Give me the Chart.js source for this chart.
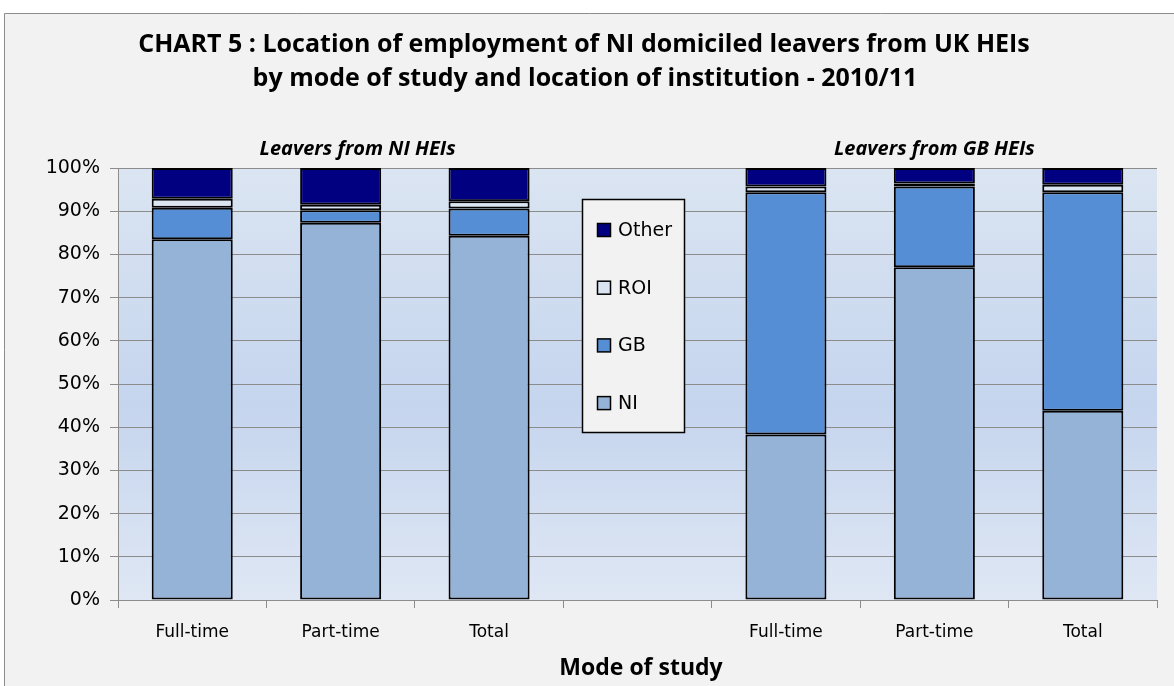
<!DOCTYPE html>
<html>
<head>
<meta charset="utf-8">
<script src="https://cdn.jsdelivr.net/npm/chart.js@4.4.0/dist/chart.umd.min.js"></script>
<style>
html,body{margin:0;padding:0;background:#fff;}
#wrap{width:1174px;height:686px;position:relative;}
</style>
</head>
<body>
<div id="wrap"><canvas id="c" width="1174" height="686"></canvas></div>
<script>
const categories = ["Full-time","Part-time","Total","","Full-time","Part-time","Total"];
const niValues    = [83.5, 87.3, 84.3, null, 38.3, 77.0, 43.8];
const gbValues    = [7.3, 2.9, 6.3, null, 56.1, 18.7, 50.6];
const roiValues   = [2.1, 1.3, 1.7, null, 1.3, 0.7, 1.7];
const otherValues = [7.1, 8.5, 7.7, null, 4.3, 3.6, 3.9];
const yTicks = [0,10,20,30,40,50,60,70,80,90,100];
const titleLines = ["CHART 5 : Location of employment of NI domiciled leavers from UK HEIs",
                    "by mode of study and location of institution - 2010/11"];
const groupLabels = ["Leavers from NI HEIs","Leavers from GB HEIs"];
const xAxisTitle = "Mode of study";

const FONT = "'DejaVu Sans', sans-serif";
const TFONT = "'Open Sans', sans-serif";

const decor = {
  id:'decor',
  beforeDraw(chart){
    const ctx = chart.ctx, a = chart.chartArea;
    ctx.save();
    ctx.fillStyle = '#ffffff';
    ctx.fillRect(0,0,chart.width,chart.height);
    ctx.fillStyle = '#f2f2f2';
    ctx.fillRect(4,13,chart.width,chart.height);
    ctx.strokeStyle = '#8c8c8c';
    ctx.lineWidth = 1;
    ctx.beginPath();
    ctx.moveTo(4.5,chart.height); ctx.lineTo(4.5,13.5); ctx.lineTo(chart.width,13.5);
    ctx.stroke();
    const g = ctx.createLinearGradient(0,a.top,0,a.bottom);
    g.addColorStop(0,'#dbe5f2');
    g.addColorStop(0.55,'#c5d5ee');
    g.addColorStop(1,'#dfe7f4');
    ctx.fillStyle = g;
    ctx.fillRect(a.left,a.top,a.right-a.left,a.bottom-a.top);
    ctx.restore();
  },
  afterDraw(chart){
    const ctx = chart.ctx, a = chart.chartArea;
    const xs = chart.scales.x;
    ctx.save();
    ctx.fillStyle = '#000';
    ctx.textAlign = 'center';
    ctx.textBaseline = 'middle';
    ctx.font = "bold 25px " + TFONT;
    ctx.fillText(titleLines[0], 584, 45);
    ctx.fillText(titleLines[1], 585, 79);
    ctx.font = "italic bold 20px " + TFONT;
    const c1 = (xs.getPixelForValue(0)+xs.getPixelForValue(2))/2 + 17;
    const c2 = (xs.getPixelForValue(4)+xs.getPixelForValue(6))/2;
    ctx.fillText(groupLabels[0], c1, 149);
    ctx.fillText(groupLabels[1], c2, 149);
    ctx.font = "bold 23px " + TFONT;
    ctx.fillText(xAxisTitle, 641, 668);

    // legend box
    const lx = 582.5, ly = 199.5, lw = 102, lh = 233;
    ctx.fillStyle = '#f2f2f2';
    ctx.fillRect(lx,ly,lw,lh);
    ctx.strokeStyle = '#000';
    ctx.lineWidth = 1.5;
    ctx.strokeRect(lx,ly,lw,lh);
    const ds = chart.data.datasets.slice().reverse();
    ctx.textAlign = 'left';
    ctx.font = "19px " + FONT;
    ds.forEach((d,i)=>{
      const y = 230 + i*57.7;
      ctx.fillStyle = d.backgroundColor;
      ctx.fillRect(597.5, y-6.5, 13, 13);
      ctx.lineWidth = 1.5;
      ctx.strokeStyle = '#000';
      ctx.strokeRect(597.5, y-6.5, 13, 13);
      ctx.fillStyle = '#000';
      ctx.fillText(d.label, 618, y+1);
    });
    ctx.restore();
  }
};

const mk = (label, data, color) => ({
  label, data, backgroundColor: color, borderColor: '#000', borderWidth: 2,
  borderSkipped: false, categoryPercentage: 1.0, barPercentage: 0.546
});

new Chart(document.getElementById('c'), {
  type: 'bar',
  data: {
    labels: categories,
    datasets: [
      mk('NI', niValues, '#95b3d7'),
      mk('GB', gbValues, '#558ed5'),
      mk('ROI', roiValues, '#dbe5f1'),
      mk('Other', otherValues, '#000080')
    ]
  },
  options: {
    responsive: false,
    animation: false,
    devicePixelRatio: 1,
    layout: { padding: { top: 168, right: 17, left: 0, bottom: 0 } },
    plugins: { legend: { display: false }, tooltip: { enabled: false }, title: { display: false } },
    scales: {
      x: {
        stacked: true,
        offset: true,
        grid: { display: true, drawOnChartArea: false, drawTicks: true, tickLength: 8, color: '#8c8c8c', offset: true },
        border: { display: true, color: '#8c8c8c', width: 1 },
        ticks: { color: '#000', font: { family: FONT, size: 17 }, padding: 14, maxRotation: 0, autoSkip: false },
        afterFit(s){ s.height = 86; }
      },
      y: {
        stacked: true,
        min: 0, max: 100,
        afterBuildTicks(s){ s.ticks = yTicks.map(v=>({value:v})); },
        grid: { color: '#8c8c8c', lineWidth: 1, tickLength: 8, drawTicks: true },
        border: { display: true, color: '#8c8c8c', width: 1 },
        ticks: { color: '#000', font: { family: FONT, size: 19 }, padding: 10, callback: v => v + '%' },
        afterFit(s){ s.width = 118; }
      }
    }
  },
  plugins: [decor]
});
</script>
</body>
</html>
